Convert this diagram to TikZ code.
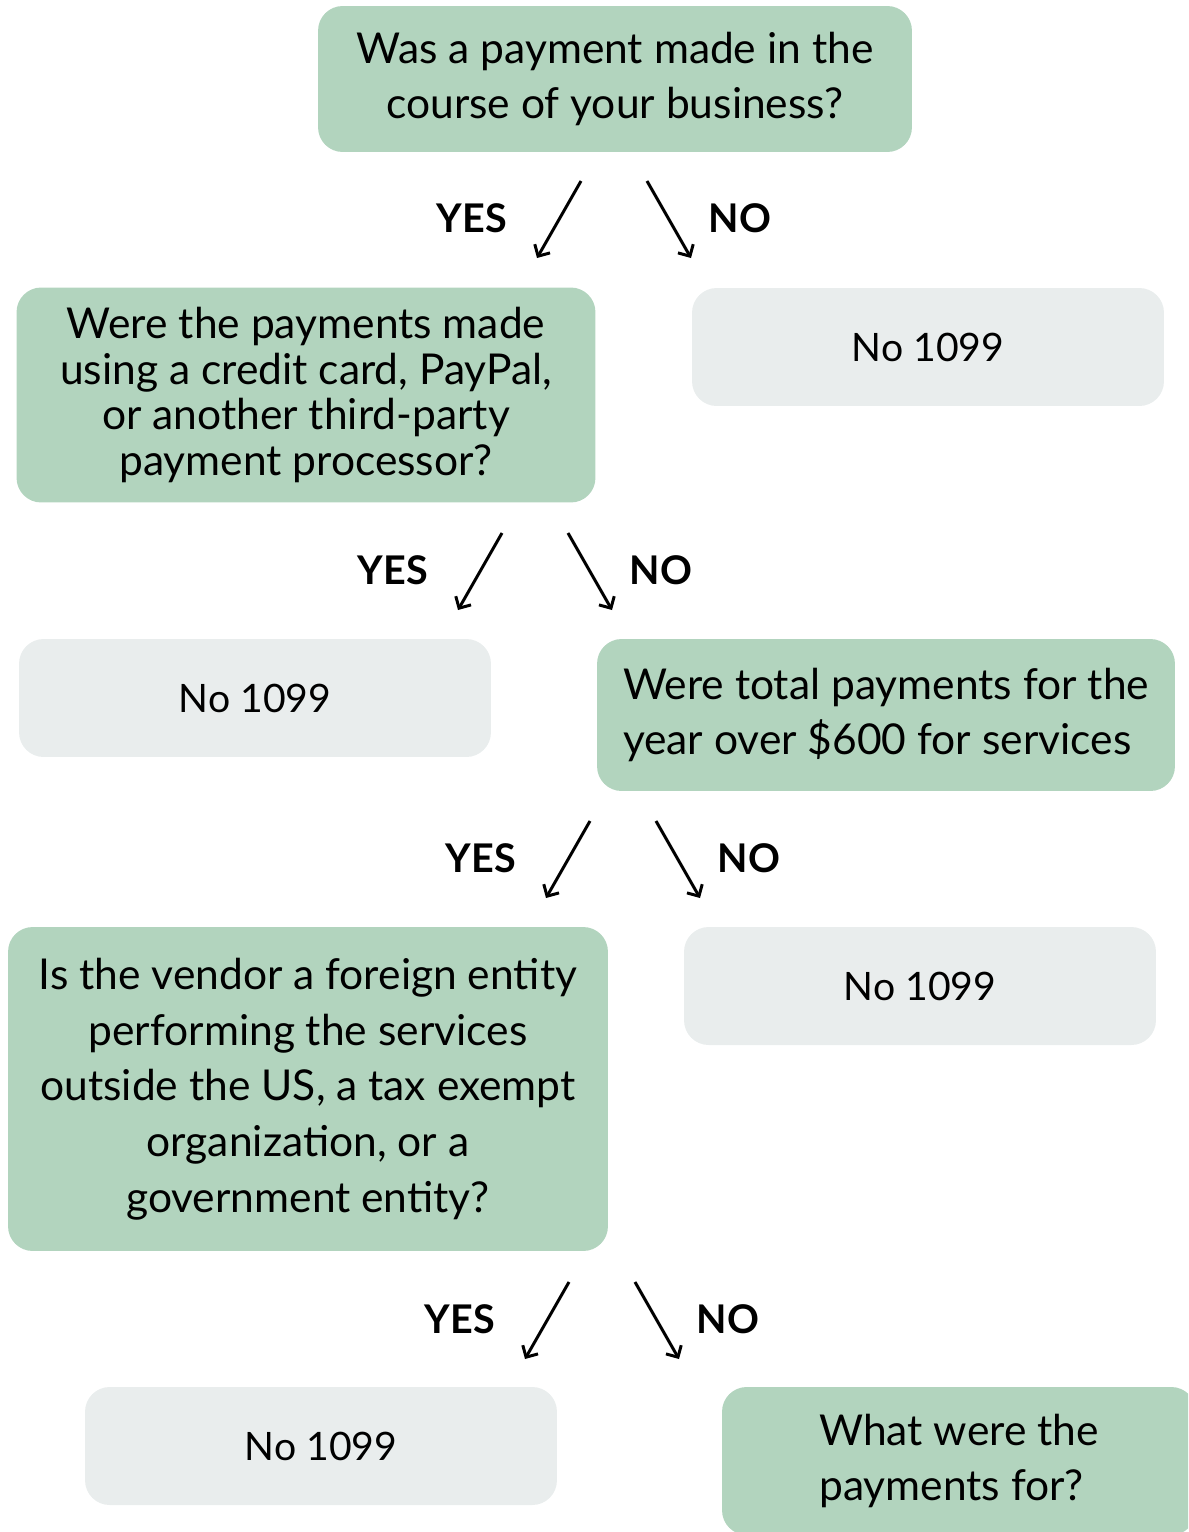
\documentclass[tikz,border=0pt]{standalone}
\usepackage{fontspec}
\setmainfont{Lato}
\usetikzlibrary{arrows.meta}

\definecolor{askgreen}{HTML}{B2D4BE}
\definecolor{endgray}{HTML}{E9EDED}

\tikzset{
    question/.style = {fill=askgreen, rounded corners=14pt, inner sep=0pt,
        align=center, font=\fontsize{24.2}{31.7}\selectfont},
    outcome/.style = {fill=endgray, rounded corners=14pt, inner sep=0pt,
        minimum width=9.44cm, minimum height=2.36cm,
        font=\fontsize{22.3}{26}\selectfont},
    answer/.style = {font=\fontsize{22.5}{22.5}\selectfont\bfseries},
    branch/.style = {-{Straight Barb[length=5pt,width=10pt]}, line width=1.7pt}
}

\begin{document}
\begin{tikzpicture}[x=0.02cm, y=-0.02cm]
    \useasboundingbox (0,0) rectangle (1188,1532);
    \clip (0,0) rectangle (1188,1532);

    \node[question, minimum width=11.88cm, minimum height=2.92cm] (paid) at (615,79)
        {Was a payment made in the\\course of your business?};
    \node[question, minimum width=11.58cm, minimum height=4.30cm,
        font=\fontsize{24.2}{26}\selectfont] (card) at (306,395)
        {Were the payments made\\using a credit card, PayPal,\\or another third-party\\payment processor?};
    \node[outcome] (none1) at (928,347) {No 1099};
    \node[outcome] (none2) at (255,698) {No 1099};
    \node[question, minimum width=11.56cm, minimum height=3.04cm, align=left] (total) at (886,715)
        {Were total payments for the\\year over \$600 for services};
    \node[question, minimum width=12.00cm, minimum height=6.48cm] (foreign) at (308,1089)
        {Is the vendor a foreign entity\\performing the services\\outside the US, a tax exempt\\organization, or a\\government entity?};
    \node[outcome] (none3) at (920,986) {No 1099};
    \node[outcome] (none4) at (321,1446) {No 1099};
    \node[question, minimum width=9.48cm, minimum height=2.96cm, align=left] (purpose) at (959,1461)
        {What were the\\payments for?};

    \foreach \name/\x/\y in {a/581/181, b/502/533, c/590/821, d/569/1282} {
        \coordinate (\name yes) at (\x,\y);
        \coordinate (\name yesend) at (\x-44,\y+77);
        \coordinate (\name no) at (\x+66,\y);
        \coordinate (\name noend) at (\x+110,\y+77);
        \draw[branch] (\name yes) -- (\name yesend);
        \draw[branch] (\name no) -- (\name noend);
        \node[answer] (\name ylabel) at (\x-109,\y+37) {YES};
        \node[answer] (\name nlabel) at (\x+159,\y+37) {NO};
    }
\end{tikzpicture}
\end{document}
